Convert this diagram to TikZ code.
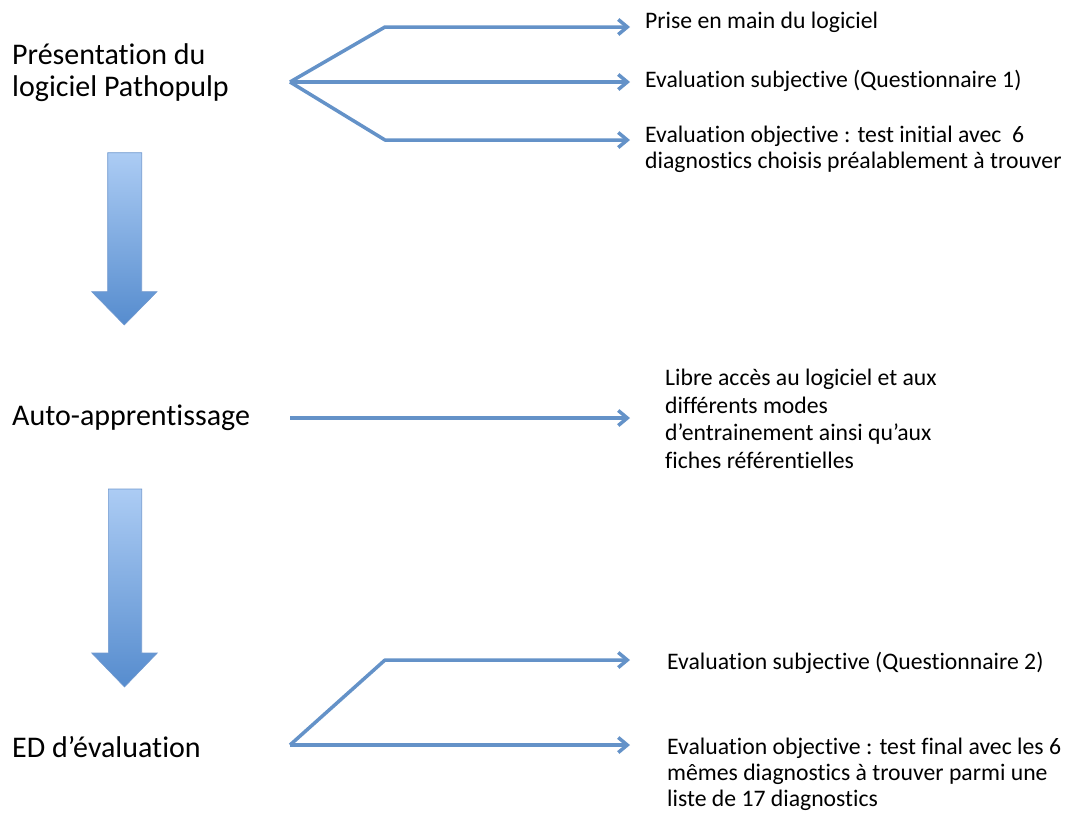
\documentclass[tikz,border=0pt]{standalone}
\usepackage{fontspec}
\setmainfont{Carlito}[Ligatures=NoCommon]
\usetikzlibrary{arrows.meta}
\definecolor{linkblue}{RGB}{100,146,200}
\definecolor{arrtop}{RGB}{172,204,244}
\definecolor{arrbot}{RGB}{86,140,206}
\definecolor{arredge}{RGB}{112,152,206}
\begin{document}
\begin{tikzpicture}[x=1pt,y=-1pt,
  link/.style={draw=linkblue, line width=3.5pt, line join=round,
    -{Straight Barb[length=9pt,width=15pt,line width=3.5pt]}},
  bigarrow/.style={top color=arrtop, bottom color=arrbot, draw=arredge, line width=0.6pt},
  stage/.style={anchor=base west, inner sep=0pt, align=left,
    font=\fontsize{30}{32}\selectfont},
  detail/.style={anchor=base west, inner sep=0pt, align=left,
    font=\fontsize{23.7}{26}\selectfont}]
\useasboundingbox (0,0) rectangle (1069,812);

% left stage labels (base anchor = baseline of last line)
\node[stage] (s1) at (12,96) {Présentation du\\logiciel Pathopulp};
\node[stage] (s2) at (12,425) {Auto-apprentissage};
\node[stage] (s3) at (12,757) {ED d’évaluation};

% right detail texts
\node[detail] (d1) at (645,28) {Prise en main du logiciel};
\node[detail] (d2) at (645,87) {Evaluation subjective (Questionnaire 1)};
\node[detail] (d3) at (645,168) {Evaluation objective : test initial avec~ 6\\diagnostics choisis préalablement à trouver};
\node[detail, font=\fontsize{23.7}{27.5}\selectfont] (d4) at (665,468) {Libre accès au logiciel et aux\\différents modes\\d’entrainement ainsi qu’aux\\fiches référentielles};
\node[detail] (d5) at (667,669) {Evaluation subjective (Questionnaire 2)};
\node[detail] (d6) at (667,806.5) {Evaluation objective : test final avec les 6\\mêmes diagnostics à trouver parmi une\\liste de 17 diagnostics};

% connector coordinates
\coordinate (f1) at (290,82);
\coordinate (b1) at (385,27);
\coordinate (b3) at (385,140);
\coordinate (e1) at (630,27);
\coordinate (e2) at (630,82);
\coordinate (e3) at (630,140);
\coordinate (f2) at (290,418);
\coordinate (e4) at (630,418);
\coordinate (f3) at (290,745);
\coordinate (b5) at (385,660);
\coordinate (e5) at (630,660);
\coordinate (e6) at (630,745);

\draw[link] (f1) -- (b1) -- (e1);
\draw[link] (f1) -- (e2);
\draw[link] (f1) -- (b3) -- (e3);
\draw[link] (f2) -- (e4);
\draw[link] (f3) -- (b5) -- (e5);
\draw[link] (f3) -- (e6);

% big down arrows
\shade[bigarrow] (107.7,152.7) -- (141.7,152.7) -- (141.7,291.7) -- (157,291.7)
  -- (124.3,325) -- (91.7,291.7) -- (107.7,291.7) -- cycle;
\shade[bigarrow] (108.3,489) -- (141.7,489) -- (141.7,653) -- (157.3,653)
  -- (124.5,687) -- (91.7,653) -- (108.3,653) -- cycle;
\end{tikzpicture}
\end{document}
